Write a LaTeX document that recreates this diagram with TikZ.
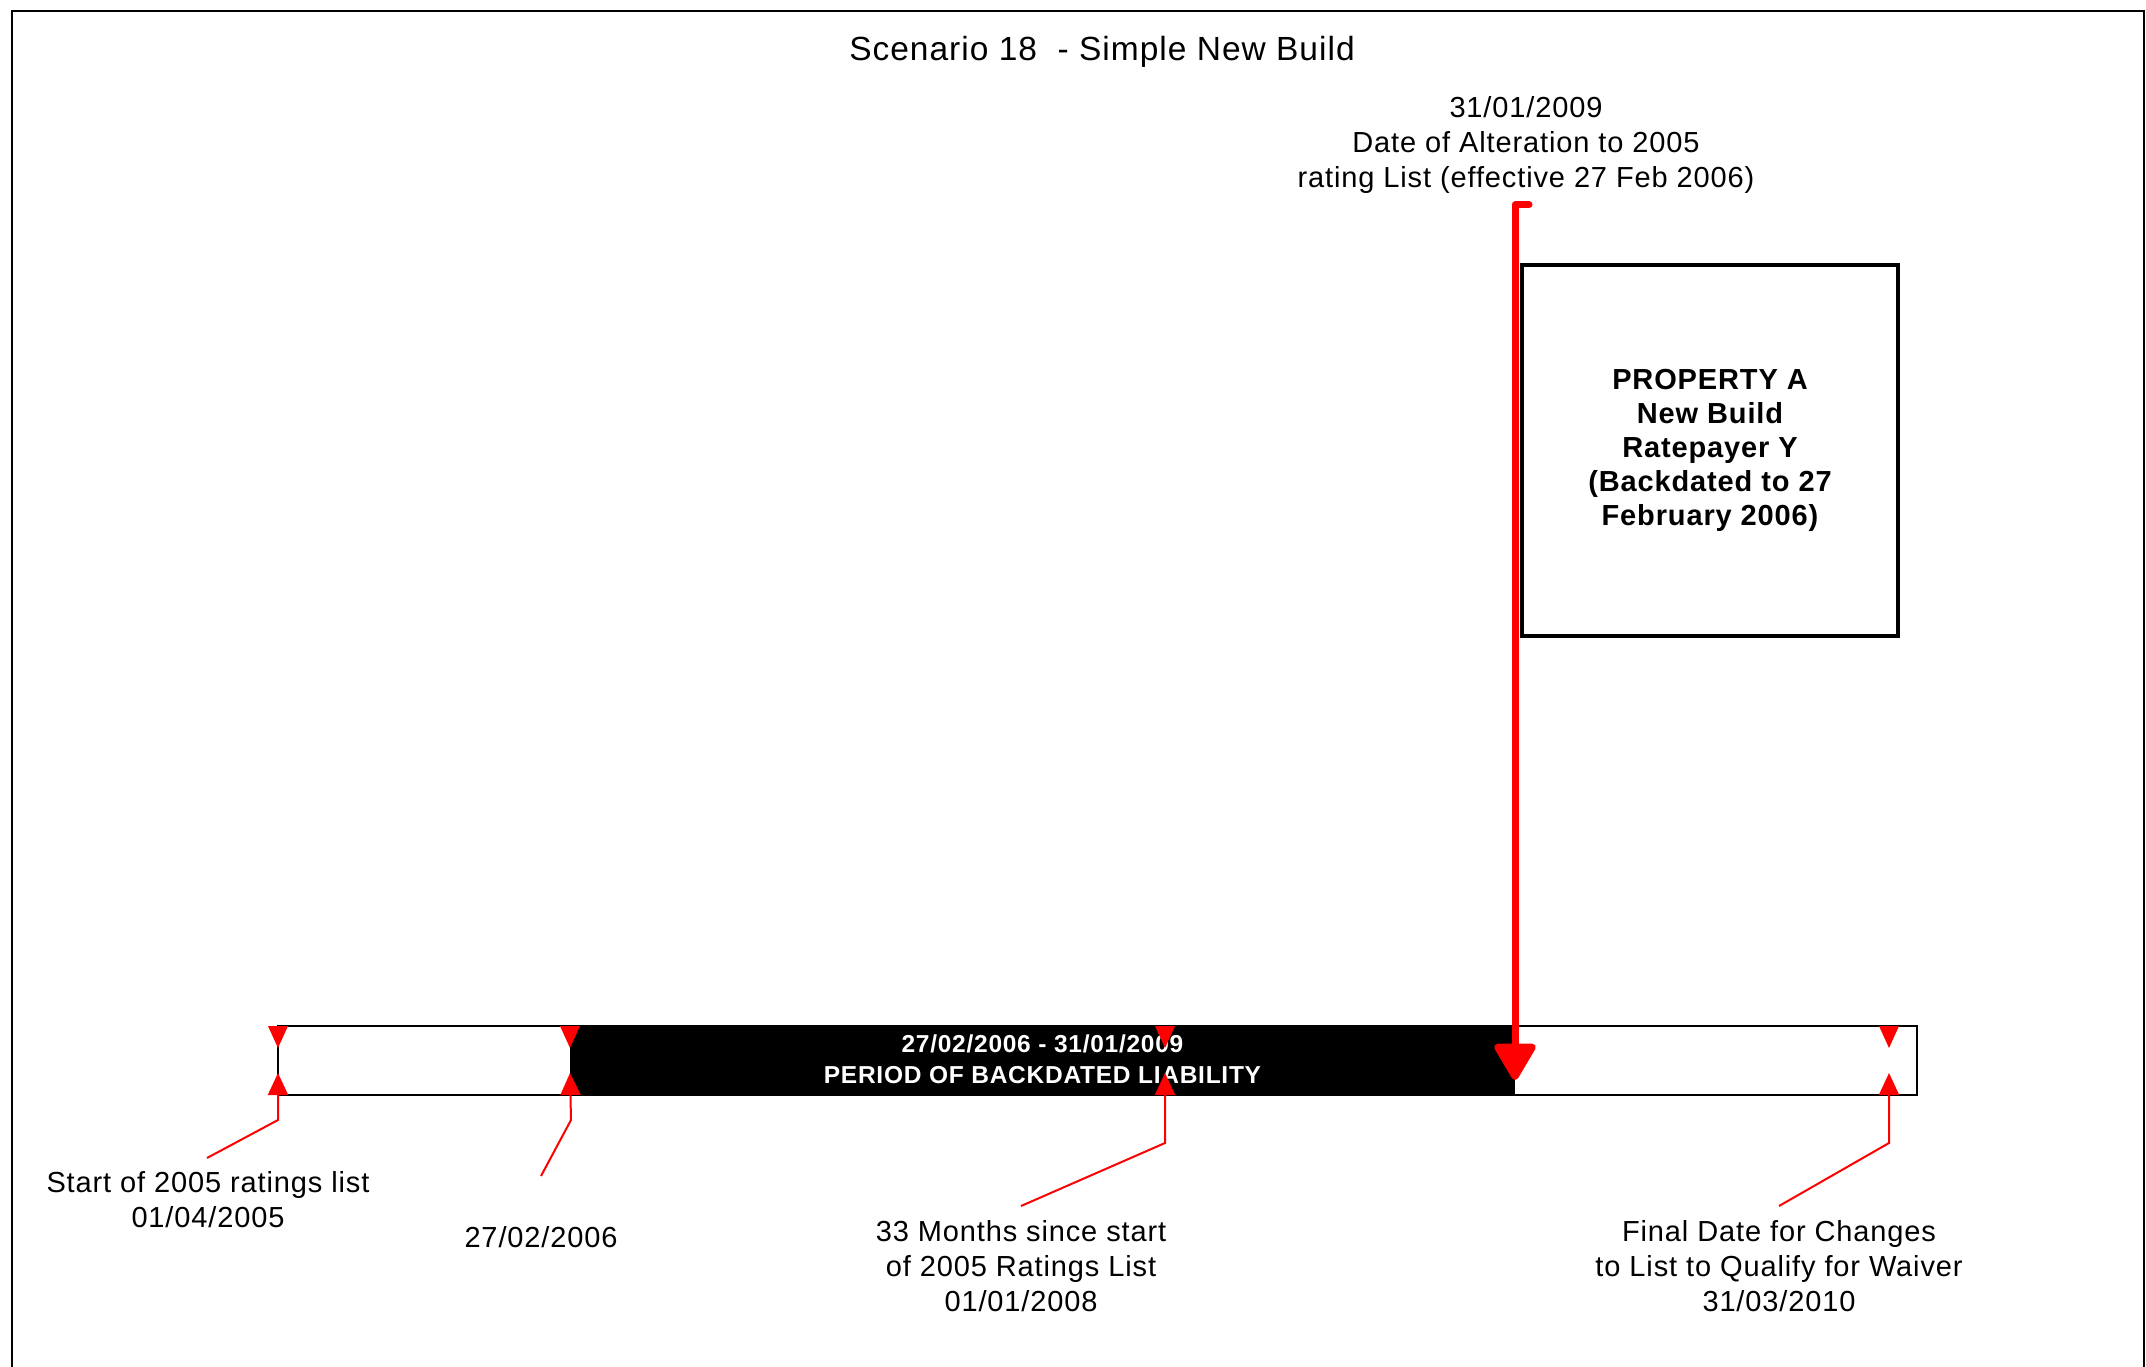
\documentclass[tikz,border=0pt]{standalone}
\usepackage{fontspec}
\setmainfont{Liberation Sans}[LetterSpace=3]
\usetikzlibrary{arrows.meta}

\tikzset{
  lbl/.style={align=center, inner sep=0pt, font=\fontsize{29}{35}\selectfont},
  boldlbl/.style={align=center, inner sep=0pt, font=\bfseries\fontsize{29}{34}\selectfont},
  callout/.style={red, line width=2pt, -{Triangle[width=20pt,length=22pt]}},
  bigarrow/.style={red, line width=7pt, line join=round, line cap=round,
    -{Triangle[width=45pt,length=40pt,round]}},
}

\begin{document}
\begin{tikzpicture}[x=1pt,y=-1pt]
  \useasboundingbox (0,0) rectangle (2146,1367);

  % outer frame
  \draw[line width=2.5pt] (12,1390) -- (12,11) -- (2144,11) -- (2144,1390);

  % title
  \node[lbl, font=\fontsize{33.5}{38}\selectfont] (title) at (1102,52) {Scenario 18~ - Simple New Build};

  % timeline bar
  \draw[line width=1.5pt] (278,1026) rectangle (1917,1095);
  \node[fill=black, minimum width=945pt, minimum height=69pt, inner sep=0pt,
        align=center, text=white, font=\bfseries\fontsize{24.5}{31}\selectfont]
        (period) at (1042.5,1059.5) {27/02/2006 - 31/01/2009\\PERIOD OF BACKDATED LIABILITY};

  % markers on the bar
  \foreach \n/\x in {a/278, b/570, c/1165, d/1889} {
    \coordinate (top\n) at (\x,1026);
    \coordinate (bot\n) at (\x,1073);
    \fill[red] (\x-10,1026) -- (\x+10,1026) -- (\x,1048) -- cycle;
  }
  \coordinate (benda) at (278,1120);
  \coordinate (bendb) at (571,1120);
  \coordinate (bendc) at (1165,1143);
  \coordinate (bendd) at (1889,1143);
  \coordinate (enda) at (207,1158);
  \coordinate (endb) at (541,1176);
  \coordinate (endc) at (1021,1206);
  \coordinate (endd) at (1779,1206);

  % labels under the bar
  \node[lbl] (lstart) at (208,1200) {Start of 2005 ratings list\\01/04/2005};
  \node[lbl] (lbackdate) at (541,1237) {27/02/2006};
  \node[lbl] (lmonths) at (1021,1266) {33 Months since start\\of 2005 Ratings List\\01/01/2008};
  \node[lbl] (lfinal) at (1779,1266) {Final Date for Changes\\to List to Qualify for Waiver\\31/03/2010};

  \draw[callout] (enda) -- (benda) -- (bota);
  \draw[callout] (endb) -- (bendb) -- (botb);
  \draw[callout] (endc) -- (bendc) -- (botc);
  \draw[callout] (endd) -- (bendd) -- (botd);

  % alteration date and property
  \node[lbl] (lalter) at (1526,145) {31/01/2009\\Date of Alteration to 2005\\rating List (effective 27 Feb 2006)};
  \node[boldlbl, draw, line width=4pt, minimum width=376pt, minimum height=371pt]
        (prop) at (1710,450.5) {PROPERTY A\\New Build\\Ratepayer Y\\(Backdated to 27\\February 2006)};

  \coordinate (hook) at (1529,205);
  \coordinate (flagtop) at (1515,205);
  \coordinate (flagtip) at (1515,1080);
  \draw[bigarrow] (hook) -- (flagtop) -- (flagtip);
\end{tikzpicture}
\end{document}
